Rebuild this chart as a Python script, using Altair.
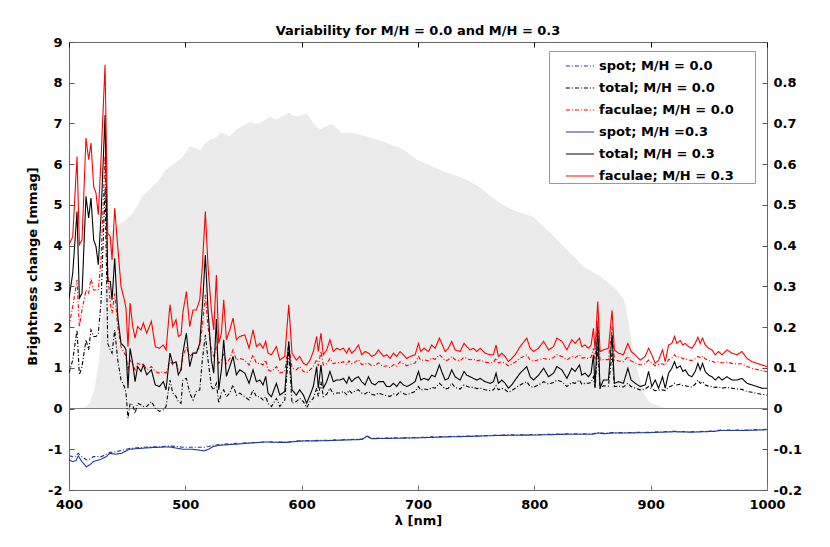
import altair as alt
import pandas as pd

# ---- data ----
wl = [400, 403.2, 406.9, 408.9, 411.2, 414.6, 416.9, 418.9, 421.2, 423.2,
      425.2, 427.5, 431, 433.3, 435.5, 437, 439.3, 441.9, 444.7, 447.6,
      449, 450.7, 452.5, 454.8, 456.8, 459, 461.9, 463.9, 466.8, 470.8,
      474.2, 477.7, 481.1, 483.4, 486.8, 489.2, 492, 494, 496.3, 497.8,
      500.9, 503.8, 506.6, 509.5, 512.4, 514.6, 517.2, 519.5, 522.4, 524.4,
      526.7, 528.7, 531, 533, 535.3, 538.2, 541, 543.9, 546.8, 551.1,
      554.8, 558.2, 561.1, 564, 566.8, 569.1, 571.1, 574, 578.3, 581.2,
      585.5, 588.9, 591.7, 595.4, 598.3,
      601.5, 604.3, 607.2, 610, 612.9, 614.3, 616.6, 618.6, 621.5, 624.3,
      627.2, 630.1, 633, 635.9, 638.7, 640.7, 643, 645.9, 648.8, 651.6,
      654.5, 657.4, 660.2, 663.1, 666, 670.3, 673.1, 676, 678.9, 681.7,
      684.6, 687.5, 690.3, 693.2, 697.5, 700.4, 702.4, 705.2, 709, 711.8,
      714.7, 718.4, 720.4, 723.3, 726.1, 729, 731.9, 736.2, 739.6, 741.9,
      744.8, 747.7, 750.5, 753.4, 757.7, 762, 764.9, 767.1, 769.1, 772,
      774.9, 777.7, 780.6, 783.5, 787.8, 793.5,
      796.4, 799.3, 803.6, 808, 812.2, 816.5, 819.4, 823.7, 828, 832.2,
      835.1, 838.8, 840.8, 843.7, 846.5, 848.8, 850.8, 852.2, 854.5, 856.5,
      859.4, 863.7, 866.8, 868.8, 872.3, 876.6, 880.4, 883.2, 886.7, 891,
      895.3, 898.2, 901, 903.9, 906.8, 910.2, 912.5, 915.4, 918.2, 920.5,
      922.5, 925.4, 927.7, 929.7, 932.6, 935.4, 938.3, 940.6, 942.6, 944.6,
      946.9, 949.8, 952.7, 955.5, 958.4, 961.3, 965.6, 969.9, 974.2, 978.5,
      982.8, 987.1, 991.4, 995.7, 1000]

fac03 = [4.02, 4.22, 6.19, 4.02, 4.14, 6.64, 6.11, 6.52, 5.45, 5.29,
         4.76, 6.11, 8.44, 4.31, 4.22, 3.65, 4.92, 3.98, 3.0, 2.67,
         2.46, 1.52, 2.59, 2.01, 1.73, 2.01, 1.93, 2.1, 1.85, 2.14,
         1.52, 1.48, 1.56, 1.44, 2.55, 2.01, 2.18, 1.77, 1.81, 2.34,
         2.87, 2.01, 2.42, 2.42, 2.67, 3.49, 4.84, 3.49, 2.42, 1.93,
         3.28, 1.6, 1.85, 2.67, 1.69, 1.93, 2.22, 1.69, 1.77, 1.81,
         1.48, 1.93, 1.52, 1.6, 1.48, 1.65, 1.36, 1.32, 1.52, 1.19,
         1.28, 2.55, 1.36, 1.19, 1.28,
         1.11, 1.07, 1.19, 1.40, 1.77, 1.40, 1.85, 1.32, 1.44, 1.69,
         1.40, 1.48, 1.44, 1.48, 1.36, 1.48, 1.36, 1.44, 1.56, 1.32,
         1.40, 1.36, 1.28, 1.32, 1.44, 1.28, 1.32, 1.23, 1.36, 1.28,
         1.40, 1.32, 1.23, 1.28, 1.32, 1.60, 1.40, 1.48, 1.40, 1.56,
         1.48, 1.73, 1.60, 1.40, 1.48, 1.65, 1.44, 1.40, 1.60, 1.52,
         1.44, 1.48, 1.40, 1.48, 1.36, 1.32, 1.32, 1.56, 1.28, 1.36,
         1.28, 1.15, 1.23, 1.32, 1.52, 1.73,
         1.48, 1.40, 1.48, 1.65, 1.44, 1.52, 1.73, 1.65, 1.44, 1.69,
         1.60, 1.73, 1.52, 1.56, 1.48, 1.56, 1.97, 1.44, 2.63, 1.40,
         1.44, 1.48, 2.41, 1.44, 1.36, 1.32, 1.60, 1.40, 1.32, 1.19,
         1.28, 1.48, 1.32, 1.11, 1.19, 1.44, 1.15, 1.56, 1.60, 1.77,
         1.60, 1.67, 1.56, 1.60, 1.52, 1.48, 1.60, 1.75, 1.60, 1.73,
         1.56, 1.48, 1.44, 1.32, 1.40, 1.32, 1.44, 1.36, 1.32, 1.40,
         1.23, 1.15, 1.11, 1.07, 1.03]

tot03 = [2.71, 3.32, 4.84, 2.71, 2.83, 5.21, 4.68, 5.17, 4.14, 3.98,
         3.53, 4.72, 7.21, 3.12, 3.12, 2.67, 3.69, 2.26, 1.6, 1.52,
         1.44, 0.5, 1.48, 1.11, 0.66, 1.03, 0.91, 1.07, 0.83, 0.95,
         0.58, 0.54, 0.66, 0.46, 1.36, 1.11, 1.15, 0.83, 0.95, 1.36,
         1.85, 1.03, 1.36, 1.36, 1.6, 2.5, 3.77, 2.42, 1.19, 0.87,
         2.2, 0.46, 0.95, 1.69, 0.79, 1.03, 1.28, 0.83, 0.95, 0.87,
         0.62, 0.95, 0.66, 0.70, 0.58, 0.79, 0.38, 0.29, 0.62, 0.33,
         0.42, 1.65, 0.46, 0.33, 0.46,
         0.33, 0.13, 0.33, 0.54, 1.03, 0.50, 1.07, 0.50, 0.66, 0.91,
         0.66, 0.70, 0.70, 0.74, 0.62, 0.78, 0.66, 0.74, 0.78, 0.66,
         0.58, 0.78, 0.62, 0.58, 0.66, 0.66, 0.54, 0.54, 0.62, 0.54,
         0.66, 0.58, 0.54, 0.58, 0.66, 0.91, 0.70, 0.74, 0.70, 0.82,
         0.78, 1.07, 0.91, 0.70, 0.74, 0.95, 0.78, 0.70, 0.91, 0.82,
         0.78, 0.74, 0.70, 0.74, 0.66, 0.62, 0.66, 0.87, 0.62, 0.70,
         0.62, 0.50, 0.58, 0.70, 0.87, 1.03,
         0.78, 0.70, 0.82, 0.99, 0.78, 0.87, 1.03, 0.95, 0.74, 0.99,
         0.91, 1.07, 0.82, 0.87, 0.78, 0.87, 1.32, 0.54, 2.01, 0.50,
         0.70, 0.70, 1.81, 0.62, 0.66, 0.62, 0.99, 0.70, 0.62, 0.54,
         0.58, 0.91, 0.54, 0.70, 0.50, 0.78, 0.50, 0.87, 0.99, 1.15,
         0.99, 1.05, 0.91, 0.95, 0.82, 0.78, 0.91, 1.11, 0.95, 1.11,
         0.91, 0.82, 0.78, 0.70, 0.78, 0.70, 0.78, 0.70, 0.70, 0.74,
         0.62, 0.58, 0.54, 0.50, 0.50]

fac00 = [2.01, 2.5, 3.16, 2.01, 2.42, 2.91, 2.83, 3.2, 2.91, 2.91,
         2.91, 3.65, 6.2, 3.32, 2.59, 2.34, 2.83, 2.01, 1.52, 1.36,
         1.3, 0.95, 1.19, 1.07, 0.95, 1.11, 1.07, 1.1, 0.95, 1.03,
         0.91, 0.87, 0.91, 0.87, 1.19, 1.07, 1.15, 0.95, 0.95, 1.27,
         1.52, 1.28, 1.36, 1.4, 1.52, 2.01, 2.79, 2.01, 1.44, 1.28,
         1.52, 1.11, 1.19, 1.36, 1.11, 1.23, 1.44, 1.19, 1.23, 1.19,
         1.07, 1.32, 1.11, 1.11, 1.07, 1.19, 0.95, 0.91, 1.03, 0.87,
         0.91, 1.60, 0.99, 0.95, 1.03,
         0.91, 0.88, 0.95, 1.03, 1.2, 1.05, 1.40, 1.07, 1.1, 1.23,
         1.1, 1.13, 1.12, 1.15, 1.08, 1.17, 1.1, 1.14, 1.2, 1.08,
         1.1, 1.11, 1.05, 1.06, 1.12, 1.03, 1.05, 1.0, 1.08, 1.04,
         1.15, 1.1, 1.05, 1.08, 1.12, 1.28, 1.18, 1.2, 1.17, 1.24,
         1.21, 1.32, 1.27, 1.17, 1.2, 1.28, 1.2, 1.17, 1.26, 1.23,
         1.2, 1.21, 1.17, 1.19, 1.14, 1.12, 1.13, 1.24, 1.12, 1.15,
         1.11, 1.05, 1.09, 1.14, 1.24, 1.32,
         1.19, 1.16, 1.2, 1.23, 1.2, 1.25, 1.32, 1.28, 1.19, 1.28,
         1.25, 1.32, 1.24, 1.25, 1.23, 1.26, 1.48, 1.2, 2.18, 1.19,
         1.2, 1.2, 2.01, 1.19, 1.17, 1.15, 1.28, 1.17, 1.12, 1.07,
         1.1, 1.19, 1.12, 1.05, 1.08, 1.1, 1.06, 1.2, 1.24, 1.32,
         1.26, 1.27, 1.22, 1.23, 1.19, 1.18, 1.22, 1.28, 1.24, 1.29,
         1.22, 1.18, 1.16, 1.13, 1.15, 1.12, 1.14, 1.11, 1.09, 1.1,
         1.03, 0.99, 0.96, 0.93, 0.91]

tot00 = [0.87, 1.19, 1.93, 0.83, 1.03, 1.69, 1.44, 1.93, 1.77, 1.77,
         1.85, 2.6, 5.4, 1.6, 1.44, 1.36, 1.93, 1.19, 0.7, 0.54,
         0.38, -0.24, 0.13, 0.09, -0.12, 0.13, 0.09, 0.05, 0.05, 0.17,
         0.01, -0.07, -0.03, 0.05, 0.7, 0.38, 0.30, 0.17, 0.13, 0.7,
         0.74, 0.38, 0.21, 0.42, 0.46, 1.19, 1.81, 1.19, 0.54, 0.46,
         0.62, 0.13, 0.38, 0.46, 0.29, 0.38, 0.58, 0.33, 0.38, 0.29,
         0.21, 0.46, 0.29, 0.29, 0.21, 0.29, 0.13, 0.05, 0.25, 0.05,
         0.21, 1.44, 0.13, 0.17, 0.25,
         0.17, 0.02, 0.17, 0.25, 0.5, 0.3, 0.66, 0.29, 0.35, 0.5,
         0.36, 0.38, 0.38, 0.42, 0.34, 0.45, 0.38, 0.43, 0.46, 0.38,
         0.36, 0.42, 0.35, 0.33, 0.38, 0.34, 0.31, 0.3, 0.36, 0.33,
         0.42, 0.37, 0.34, 0.37, 0.42, 0.54, 0.45, 0.48, 0.46, 0.52,
         0.5, 0.62, 0.57, 0.48, 0.5, 0.62, 0.52, 0.48, 0.58, 0.55,
         0.52, 0.52, 0.49, 0.5, 0.46, 0.44, 0.46, 0.56, 0.46, 0.5,
         0.46, 0.4, 0.44, 0.5, 0.58, 0.66,
         0.54, 0.52, 0.58, 0.66, 0.6, 0.64, 0.70, 0.66, 0.54, 0.64,
         0.62, 0.70, 0.6, 0.62, 0.62, 0.64, 0.78, 0.5, 1.52, 0.5,
         0.56, 0.55, 1.36, 0.54, 0.55, 0.53, 0.62, 0.54, 0.5, 0.46,
         0.48, 0.54, 0.48, 0.44, 0.45, 0.46, 0.44, 0.52, 0.56, 0.62,
         0.58, 0.6, 0.56, 0.56, 0.54, 0.53, 0.6, 0.70, 0.62, 0.66,
         0.58, 0.55, 0.54, 0.52, 0.53, 0.5, 0.52, 0.5, 0.48, 0.47,
         0.42, 0.4, 0.37, 0.35, 0.33]

spot_wl = [400, 403, 406, 408, 411, 415, 418, 421, 425, 428,
           432, 435, 440, 445, 452, 460, 470, 478, 486, 492,
           498, 506, 512, 516, 520, 524, 530, 541, 555, 569,
           580, 588, 598, 620, 640, 652, 656, 660, 680, 700,
           720, 750, 770, 800, 830, 850, 855, 860, 867, 880,
           900, 920, 935, 955, 960, 980, 1000]
spot03 = [-1.26, -1.30, -1.28, -1.16, -1.30, -1.43, -1.38, -1.30, -1.27, -1.24,
          -1.18, -1.10, -1.12, -1.10, -1.0, -0.98, -0.96, -0.95, -0.94, -0.97,
          -1.0, -1.0, -1.02, -1.04, -1.0, -0.93, -0.9, -0.88, -0.85, -0.82,
          -0.83, -0.83, -0.80, -0.79, -0.77, -0.76, -0.68, -0.74, -0.73, -0.72,
          -0.70, -0.68, -0.66, -0.65, -0.63, -0.63, -0.60, -0.62, -0.60, -0.60,
          -0.59, -0.57, -0.58, -0.56, -0.54, -0.54, -0.52]
spot00 = [-1.16, -1.18, -1.17, -1.10, -1.18, -1.26, -1.24, -1.18, -1.18, -1.18,
          -1.12, -1.08, -1.06, -1.03, -0.98, -0.96, -0.94, -0.94, -0.92, -0.93,
          -0.95, -0.95, -0.95, -0.95, -0.93, -0.90, -0.88, -0.86, -0.84, -0.82,
          -0.82, -0.82, -0.79, -0.78, -0.76, -0.75, -0.67, -0.73, -0.72, -0.71,
          -0.69, -0.67, -0.65, -0.64, -0.62, -0.62, -0.59, -0.61, -0.59, -0.59,
          -0.58, -0.56, -0.57, -0.55, -0.53, -0.53, -0.51]

filt_wl = [400, 405, 410, 414, 418, 422, 426, 429, 432, 435,
           440, 447, 455, 463, 470, 477, 483, 490, 498, 504,
           509, 513, 517, 521, 526, 530, 534, 538, 544, 550,
           556, 560, 564, 569, 573, 577, 581, 585, 589, 592,
           596, 600, 604, 607, 610, 613, 616, 620, 626, 630,
           635, 640, 645, 650, 656, 663, 670, 677, 685, 692,
           699, 706, 713, 722, 732, 742, 749, 756, 763, 771,
           778, 785, 792, 799, 806, 814, 821, 828, 835, 842,
           849, 857, 864, 871, 877, 880, 883, 886, 888, 891,
           894, 898, 902, 906, 910, 915, 1000]
filt = [0, 0, 0.001, 0.004, 0.015, 0.05, 0.12, 0.23, 0.35, 0.43,
        0.447, 0.46, 0.48, 0.52, 0.54, 0.56, 0.586, 0.60, 0.619, 0.644,
        0.64, 0.635, 0.65, 0.66, 0.665, 0.677, 0.675, 0.668, 0.685, 0.695,
        0.705, 0.698, 0.702, 0.71, 0.717, 0.71, 0.714, 0.72, 0.727, 0.72,
        0.717, 0.72, 0.724, 0.715, 0.70, 0.692, 0.686, 0.692, 0.699, 0.688,
        0.676, 0.678, 0.676, 0.672, 0.668, 0.662, 0.656, 0.648, 0.640, 0.627,
        0.611, 0.602, 0.594, 0.582, 0.572, 0.562, 0.55, 0.537, 0.52, 0.504,
        0.493, 0.484, 0.477, 0.471, 0.452, 0.431, 0.41, 0.39, 0.37, 0.349,
        0.337, 0.324, 0.308, 0.291, 0.267, 0.23, 0.175, 0.13, 0.103, 0.07,
        0.038, 0.02, 0.012, 0.008, 0.003, 0, 0]

labels = ["spot; M/H = 0.0", "total; M/H = 0.0", "faculae; M/H = 0.0",
          "spot; M/H =0.3", "total; M/H = 0.3", "faculae; M/H = 0.3"]
colors = ["#23399b", "#000000", "#ff0000", "#23399b", "#000000", "#ff0000"]
dashes = [[4, 2, 1, 2], [4, 2, 1, 2], [4, 2, 1, 2], [1, 0], [1, 0], [1, 0]]

x_ticks = [400, 500, 600, 700, 800, 900, 1000]
y_ticks = list(range(-2, 10))
r_ticks = [-0.2, -0.1, 0, 0.1, 0.2, 0.3, 0.4, 0.5, 0.6, 0.7, 0.8]

# ---- tables ----
rows = []
for lab, xs, ys in [(labels[0], spot_wl, spot00), (labels[1], wl, tot00),
                    (labels[2], wl, fac00), (labels[3], spot_wl, spot03),
                    (labels[4], wl, tot03), (labels[5], wl, fac03)]:
    for xv, yv in zip(xs, ys):
        rows.append({"wl": xv, "val": yv, "series": lab})
df = pd.DataFrame(rows)
fdf = pd.DataFrame({"wl": filt_wl, "f": filt})
sdf = pd.DataFrame({"wl": spot_wl, "val": spot03})

W, H = 698, 448
FONT = "DejaVu Sans"
xscale = alt.Scale(domain=[400, 1000], nice=False, zero=False)
lscale = alt.Scale(domain=[-2, 9], nice=False, zero=False)
rscale = alt.Scale(domain=[-0.2, 0.9], nice=False, zero=False)
lab_expr = "datum.value == 0 ? '0' : '' + datum.value"
pad = "\u2800" * 2

area = alt.Chart(fdf).mark_area(color="#ebebeb", opacity=1, clip=True).encode(
    x=alt.X("wl:Q", scale=xscale,
            axis=alt.Axis(orient="top", offset=-H, values=x_ticks, labels=False,
                          tickSize=5, domain=False, grid=False, title=None, zindex=2,
                          tickColor="#777777")),
    y=alt.Y("f:Q", scale=rscale,
            axis=alt.Axis(orient="right", values=r_ticks, labelExpr=lab_expr,
                          tickSize=0, labelPadding=6, domain=False, grid=False,
                          title=None, labelFlush=False, labelOverlap=False)),
    y2=alt.datum(0),
)

zero = alt.Chart(pd.DataFrame({"z": [0]})).mark_rule(color="#7a7a7a", strokeWidth=1).encode(
    y=alt.Y("z:Q", scale=lscale, axis=None)
)

leg = alt.Legend(title=None, orient="none", legendX=480, legendY=9,
                 symbolType="stroke", symbolSize=800, symbolStrokeWidth=1.1,
                 labelFontSize=13, labelFontWeight="bold", labelFont=FONT,
                 labelColor="black", padding=0, rowPadding=0, labelOffset=4,
                 symbolOffset=16, strokeColor="#999999", fillColor="white",
                 labelLimit=400, labelExpr="datum.label + '" + pad + "'")

lines = alt.Chart(df).mark_line(strokeWidth=1.1, clip=True).encode(
    x=alt.X("wl:Q", scale=xscale,
            axis=alt.Axis(orient="bottom", values=x_ticks, title="λ [nm]",
                          labelExpr="'' + datum.value",
                          tickSize=0, labelPadding=8, titlePadding=3, domain=False,
                          grid=False, labelFlush=False, labelOverlap=False)),
    y=alt.Y("val:Q", scale=lscale,
            axis=alt.Axis(orient="left", values=y_ticks, labelExpr=lab_expr,
                          title="Brightness change [mmag]", tickSize=0, labelPadding=7,
                          titlePadding=8, domain=False, grid=False,
                          labelFlush=False, labelOverlap=False)),
    color=alt.Color("series:N", scale=alt.Scale(domain=labels, range=colors), legend=leg),
    strokeDash=alt.StrokeDash("series:N", scale=alt.Scale(domain=labels, range=dashes), legend=leg),
)

ticks_a = alt.Chart(sdf).mark_line(opacity=0).encode(
    x=alt.X("wl:Q", scale=xscale,
            axis=alt.Axis(orient="bottom", offset=-H, values=x_ticks, labels=False,
                          tickSize=5, domain=False, grid=False, title=None, zindex=2,
                          tickColor="#000000")),
    y=alt.Y("val:Q", scale=lscale,
            axis=alt.Axis(orient="right", offset=-W, values=y_ticks, labels=False,
                          tickSize=5, domain=False, grid=False, title=None, zindex=2)),
)
ticks_b = alt.Chart(sdf).mark_line(opacity=0).encode(
    x=alt.X("wl:Q", scale=xscale, axis=None),
    y=alt.Y("val:Q", scale=lscale,
            axis=alt.Axis(orient="left", offset=-W, values=y_ticks, labels=False,
                          tickSize=5, domain=False, grid=False, title=None, zindex=2)),
)

chart = alt.layer(area, zero, lines, ticks_a, ticks_b).resolve_scale(
    y="independent"
).resolve_axis(
    x="independent", y="independent"
).properties(
    width=W, height=H,
    title=alt.TitleParams("Variability for M/H = 0.0 and M/H = 0.3", fontSize=13,
                          fontWeight="bold", font=FONT, color="black", offset=6,
                          dy=8, anchor="middle"),
    autosize=alt.AutoSizeParams(type="none"),
    padding={"left": 61, "top": 34, "right": 55, "bottom": 49},
).configure_view(
    stroke="#666666", strokeWidth=1
).configure_axis(
    labelFont=FONT, labelFontSize=13, labelFontWeight="bold", labelColor="black",
    titleFont=FONT, titleFontSize=13, titleFontWeight="bold", titleColor="black",
    tickColor="#555555", tickWidth=1
)

chart.save("out.html", embed_options={"renderer": "svg", "actions": False})
